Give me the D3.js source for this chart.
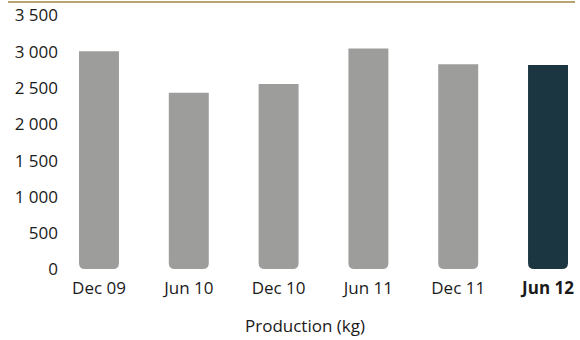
<!DOCTYPE html>
<html>
<head>
<meta charset="utf-8">
<script src="https://cdn.jsdelivr.net/npm/d3@7"></script>
<style>
  html, body { margin: 0; padding: 0; background: #fff; }
  svg { display: block; font-family: "Open Sans", "Noto Sans", sans-serif; }
</style>
</head>
<body>
<svg id="chart" width="580" height="340"></svg>
<script>
// Production in kg per half-year period
const periods = ["Dec 09", "Jun 10", "Dec 10", "Jun 11", "Dec 11", "Jun 12"];
const production = [3000, 2430, 2550, 3040, 2820, 2810];
const yTicks = [0, 500, 1000, 1500, 2000, 2500, 3000, 3500];
const highlight = "Jun 12";

const fontSize = 17;
const textColor = "#1a1a1a";

const svg = d3.select("#chart");

const x = d3.scaleBand()
  .domain(periods)
  .range([79, 568])
  .paddingInner(0.555)
  .paddingOuter(0);

const y = d3.scaleLinear()
  .domain([0, 3500])
  .range([269, 15]);

// gold rule across the top
svg.append("line")
  .attr("x1", 8).attr("x2", 575)
  .attr("y1", 2).attr("y2", 2)
  .attr("stroke", "#b8a46e")
  .attr("stroke-width", 2.2);

// y axis labels (no line, no ticks), thousands separated by a space
const yAxis = d3.axisLeft(y)
  .tickValues(yTicks)
  .tickSize(0)
  .tickPadding(0)
  .tickFormat(v => d3.format(",")(v).replace(/,/g, " "));
const yg = svg.append("g").attr("transform", "translate(58,0)").call(yAxis);
yg.select(".domain").remove();
yg.selectAll("text")
  .attr("font-size", fontSize)
  .attr("font-family", "'Open Sans', sans-serif")
  .attr("fill", textColor)
  .attr("dy", "0.35em");

// bars with rounded bottom corners
const r = 6;
function barPath(d, i) {
  const x0 = x(periods[i]);
  const w = x.bandwidth();
  const top = y(d);
  const bot = y(0);
  return `M${x0},${top}H${x0 + w}V${bot - r}` +
         `Q${x0 + w},${bot} ${x0 + w - r},${bot}` +
         `H${x0 + r}Q${x0},${bot} ${x0},${bot - r}Z`;
}
svg.append("g").selectAll("path")
  .data(production)
  .join("path")
  .attr("d", barPath)
  .attr("fill", (d, i) => periods[i] === highlight ? "#1c3641" : "#9d9d9b");

// x axis labels
const xAxis = d3.axisBottom(x).tickSize(0).tickPadding(0);
const xg = svg.append("g").attr("transform", "translate(0,288)").call(xAxis);
xg.select(".domain").remove();
xg.selectAll("text")
  .attr("font-size", fontSize)
  .attr("font-family", "'Open Sans', sans-serif")
  .attr("fill", textColor)
  .attr("dy", "0.35em")
  .attr("font-weight", d => d === highlight ? "bold" : "normal");

// axis title
svg.append("text")
  .attr("x", 305)
  .attr("y", 332)
  .attr("text-anchor", "middle")
  .attr("font-size", fontSize)
  .attr("fill", textColor)
  .text("Production (kg)");
</script>
</body>
</html>
